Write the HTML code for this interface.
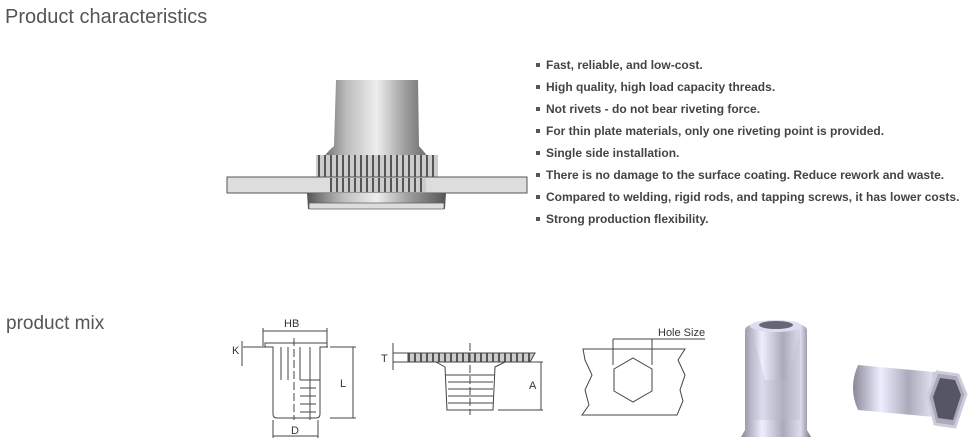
<!DOCTYPE html>
<html><head><meta charset="utf-8"><style>
body{margin:0;width:980px;height:441px;background:#fff;position:relative;overflow:hidden;font-family:"Liberation Sans",sans-serif}
.t{position:absolute;color:#555;font-size:20px;white-space:nowrap}
ul{position:absolute;left:536px;top:54px;margin:0;padding:0;list-style:none}
li{font-size:12px;font-weight:bold;color:#444;height:22px;line-height:22px;white-space:nowrap}
li:before{content:"";display:inline-block;width:4px;height:4px;background:#555;margin-right:6px;vertical-align:middle;position:relative;top:-1px}
svg{position:absolute;left:0;top:0}
</style></head><body>
<div class="t" style="left:5px;top:6px">Product characteristics</div>
<div class="t" style="left:6px;top:313px;font-size:19px">product mix</div>
<ul>
<li>Fast, reliable, and low-cost.</li>
<li>High quality, high load capacity threads.</li>
<li>Not rivets - do not bear riveting force.</li>
<li>For thin plate materials, only one riveting point is provided.</li>
<li>Single side installation.</li>
<li>There is no damage to the surface coating. Reduce rework and waste.</li>
<li>Compared to welding, rigid rods, and tapping screws, it has lower costs.</li>
<li>Strong production flexibility.</li>
</ul>
<svg width="980" height="441" viewBox="0 0 980 441">
<defs>
<linearGradient id="m" x1="0" x2="1"><stop offset="0" stop-color="#555"/><stop offset=".25" stop-color="#bbb"/><stop offset=".5" stop-color="#eee"/><stop offset=".75" stop-color="#999"/><stop offset="1" stop-color="#555"/></linearGradient>
<linearGradient id="c" x1="0" x2="1"><stop offset="0" stop-color="#889"/><stop offset=".3" stop-color="#eef"/><stop offset=".6" stop-color="#aab"/><stop offset=".85" stop-color="#dde"/><stop offset="1" stop-color="#778"/></linearGradient>
<pattern id="f" width="6" height="10" patternUnits="userSpaceOnUse"><rect width="6" height="10" fill="#ccc"/><rect width="2" height="10" fill="#555"/></pattern>
</defs>
<!-- top nut -->
<path d="M336 80 L418 80 L419 146 Q430 158 437 172 L316 172 Q322 156 334 146 Z" fill="url(#m)"/>
<rect x="316" y="155" width="122" height="30" fill="url(#f)"/>
<rect x="227" y="177" width="300" height="16" fill="#ddd" stroke="#555"/>
<rect x="330" y="178" width="96" height="14" fill="url(#f)"/>
<path d="M307 193 L446 193 L445 209 L308 209 Z" fill="url(#m)"/>
<rect x="309" y="203" width="135" height="6" fill="#ddd" stroke="#555" stroke-width=".7"/>
<!-- drawing 1 -->
<g fill="none" stroke="#444" stroke-width="1">
<path d="M263 347 L273 347 L273 414 Q273 418 277 418 L316 418 Q320 418 320 414 L320 347 L328 347"/>
<path d="M265 347 L265 343 L327 343 L327 347"/>
<line x1="263" y1="331" x2="327" y2="331"/><line x1="263" y1="328" x2="263" y2="346"/><line x1="327" y1="328" x2="327" y2="346"/>
<line x1="330" y1="347" x2="356" y2="347"/><line x1="330" y1="418" x2="356" y2="418"/><line x1="353" y1="347" x2="353" y2="418"/>
<line x1="273" y1="420" x2="273" y2="438"/><line x1="318" y1="420" x2="318" y2="438"/><line x1="273" y1="436" x2="318" y2="436"/>
<line x1="243" y1="347" x2="263" y2="347"/><line x1="242" y1="341" x2="242" y2="366"/>
<line x1="294" y1="338" x2="294" y2="420" stroke-dasharray="8 3"/>
<path d="M281 347 L281 380 M288 347 L288 380 M300 347 L300 380 M310 347 L310 420" />
<path d="M300 380 L320 380 M300 388 L316 388 M300 396 L316 396 M300 404 L316 404 M300 412 L316 412"/>
</g>
<text x="284" y="327" font-size="11" fill="#333" font-family="Liberation Sans">HB</text>
<text x="232" y="354" font-size="11" fill="#333" font-family="Liberation Sans">K</text>
<text x="340" y="387" font-size="11" fill="#333" font-family="Liberation Sans">L</text>
<text x="291" y="434" font-size="11" fill="#333" font-family="Liberation Sans">D</text>
<!-- drawing 2 -->
<g fill="none" stroke="#444" stroke-width="1">
<path d="M408 353 L535 353 L530 362 L408 362 Z" fill="url(#f)"/>
<path d="M436 362 L445 367 L447 410 L493 410 L495 367 L505 362"/>
<path d="M445 375 L495 375 M448 382 L493 382 M448 389 L493 389 M448 396 L493 396 M448 403 L493 403"/>
<line x1="470" y1="343" x2="470" y2="415" stroke-dasharray="8 3"/>
<line x1="393" y1="353" x2="408" y2="353"/><line x1="393" y1="362" x2="408" y2="362"/><line x1="393" y1="343" x2="393" y2="370"/>
<line x1="498" y1="362" x2="543" y2="362"/><line x1="498" y1="410" x2="543" y2="410"/><line x1="541" y1="362" x2="541" y2="410"/>
</g>
<text x="381" y="362" font-size="11" fill="#333" font-family="Liberation Sans">T</text>
<text x="529" y="389" font-size="11" fill="#333" font-family="Liberation Sans">A</text>
<!-- drawing 3 -->
<g fill="none" stroke="#444" stroke-width="1">
<path d="M583 349 L685 349 L678 360 L685 375 L680 390 L683 401 L677 415 L582 415 L589 405 L585 390 L592 375 L585 360 Z"/>
<path d="M633 358 L652 369 L652 391 L633 402 L614 391 L614 369 Z"/>
<line x1="613" y1="339" x2="613" y2="365"/><line x1="652" y1="339" x2="652" y2="365"/><line x1="613" y1="339" x2="705" y2="339"/>
</g>
<text x="658" y="336" font-size="11" fill="#333" font-family="Liberation Sans">Hole Size</text>
<!-- photos -->
<path d="M745 330 Q746 322 776 322 Q806 322 807 330 L807 430 L811 437 L741 437 L745 430 Z" fill="url(#c)"/>
<ellipse cx="776" cy="326" rx="26" ry="6" fill="#dde"/>
<ellipse cx="776" cy="325" rx="17" ry="4" fill="#667"/>
<path d="M765 380 L788 380 L800 330 L800 420 L752 420 L752 330 Z" fill="#bbc" opacity=".35"/>
<path d="M858 365 L945 373 L945 418 L858 410 Q848 388 858 365 Z" fill="url(#c)"/>
<path d="M937 372 L958 375 L966 394 L955 427 L935 424 L928 397 Z" fill="#aab" stroke="#ccd" stroke-width="3"/>
<path d="M940 378 L955 380 L961 395 L953 420 L938 418 L933 397 Z" fill="#556"/>
</svg>
</body></html>
